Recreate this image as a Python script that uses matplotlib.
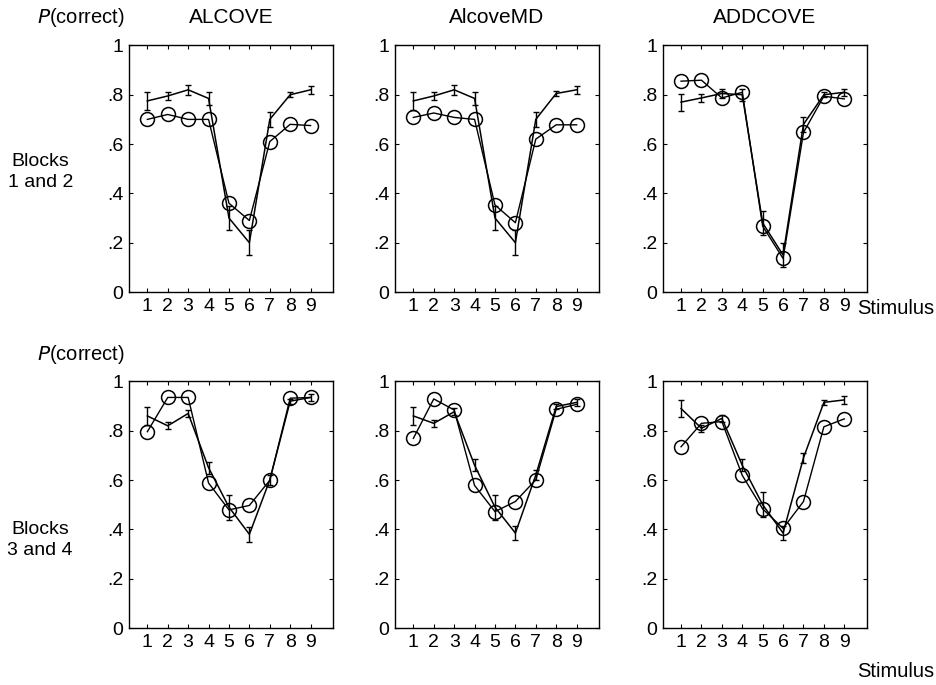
import matplotlib
matplotlib.use("Agg")
import matplotlib.pyplot as plt

plt.rcParams['font.family'] = ['Liberation Sans', 'DejaVu Sans']

stimulus = [1, 2, 3, 4, 5, 6, 7, 8, 9]
models = ["ALCOVE", "AlcoveMD", "ADDCOVE"]
blocks = ["Blocks\n1 and 2", "Blocks\n3 and 4"]

# observed data (line with error bars), one per panel
obs_top_alcove = [0.775, 0.795, 0.82, 0.785, 0.30, 0.20, 0.70, 0.80, 0.82]
obs_top_alcovemd = [0.775, 0.795, 0.82, 0.785, 0.30, 0.20, 0.70, 0.805, 0.82]
obs_top_addcove = [0.77, 0.787, 0.805, 0.80, 0.28, 0.15, 0.68, 0.80, 0.81]
err_top = [0.035, 0.015, 0.02, 0.025, 0.05, 0.05, 0.03, 0.01, 0.015]

obs_bot_alcove = [0.86, 0.82, 0.87, 0.65, 0.49, 0.38, 0.60, 0.92, 0.935]
obs_bot_alcovemd = [0.86, 0.83, 0.877, 0.66, 0.49, 0.385, 0.62, 0.898, 0.915]
obs_bot_addcove = [0.89, 0.81, 0.85, 0.66, 0.50, 0.385, 0.69, 0.915, 0.925]
err_bot = [0.035, 0.015, 0.015, 0.025, 0.05, 0.03, 0.02, 0.01, 0.015]

# model predictions (open circles)
mod_top_alcove = [0.70, 0.72, 0.70, 0.70, 0.36, 0.29, 0.61, 0.68, 0.675]
mod_top_alcovemd = [0.708, 0.726, 0.708, 0.70, 0.353, 0.281, 0.62, 0.678, 0.678]
mod_top_addcove = [0.855, 0.859, 0.787, 0.81, 0.267, 0.136, 0.647, 0.794, 0.783]

mod_bot_alcove = [0.796, 0.935, 0.935, 0.588, 0.479, 0.497, 0.599, 0.932, 0.935]
mod_bot_alcovemd = [0.769, 0.929, 0.884, 0.578, 0.472, 0.513, 0.601, 0.887, 0.907]
mod_bot_addcove = [0.735, 0.83, 0.837, 0.619, 0.483, 0.404, 0.513, 0.816, 0.848]

observed = [[obs_top_alcove, obs_top_alcovemd, obs_top_addcove],
            [obs_bot_alcove, obs_bot_alcovemd, obs_bot_addcove]]
errors = [err_top, err_bot]
predicted = [[mod_top_alcove, mod_top_alcovemd, mod_top_addcove],
             [mod_bot_alcove, mod_bot_alcovemd, mod_bot_addcove]]

yticks = [0, 0.2, 0.4, 0.6, 0.8, 1.0]
ytick_labels = ["0", ".2", ".4", ".6", ".8", "1"]

fig = plt.figure(figsize=(9.36, 6.85), dpi=100)

lefts = [0.1378, 0.422, 0.708]
bottoms = [0.5737, 0.0832]
w, h = 0.218, 0.36

for r in range(2):
    for c in range(3):
        ax = fig.add_axes([lefts[c], bottoms[r], w, h])
        ax.errorbar(stimulus, observed[r][c], yerr=errors[r], color='black',
                    lw=1.1, elinewidth=1.0, capsize=2.5, capthick=1.0)
        ax.plot(stimulus, predicted[r][c], color='black', lw=1.0, marker='o',
                markersize=10, markerfacecolor='none', markeredgewidth=1.1)
        ax.set_xlim(0.1, 10.1)
        ax.set_ylim(0, 1)
        ax.set_xticks(stimulus)
        ax.set_yticks(yticks)
        ax.set_yticklabels(ytick_labels)
        ax.tick_params(direction='in', length=3, width=0.8, top=True,
                       right=True, labelsize=14, pad=4)
        for s in ax.spines.values():
            s.set_linewidth(1.0)
        if r == 0:
            ax.set_title(models[c], fontsize=15, pad=16)

for r, yc in enumerate([0.975, 0.482]):
    fig.text(0.04, yc, r"$\it{P}$(correct)", fontsize=14.5, va='center', ha='left')
for r, yc in enumerate([0.749, 0.212]):
    fig.text(0.043, yc, blocks[r], fontsize=14, ha='center', va='center',
             linespacing=1.3)
for yc in [0.55, 0.019]:
    fig.text(0.998, yc, "Stimulus", fontsize=14.5, ha='right', va='center')

fig.savefig("out.png", dpi=100)
